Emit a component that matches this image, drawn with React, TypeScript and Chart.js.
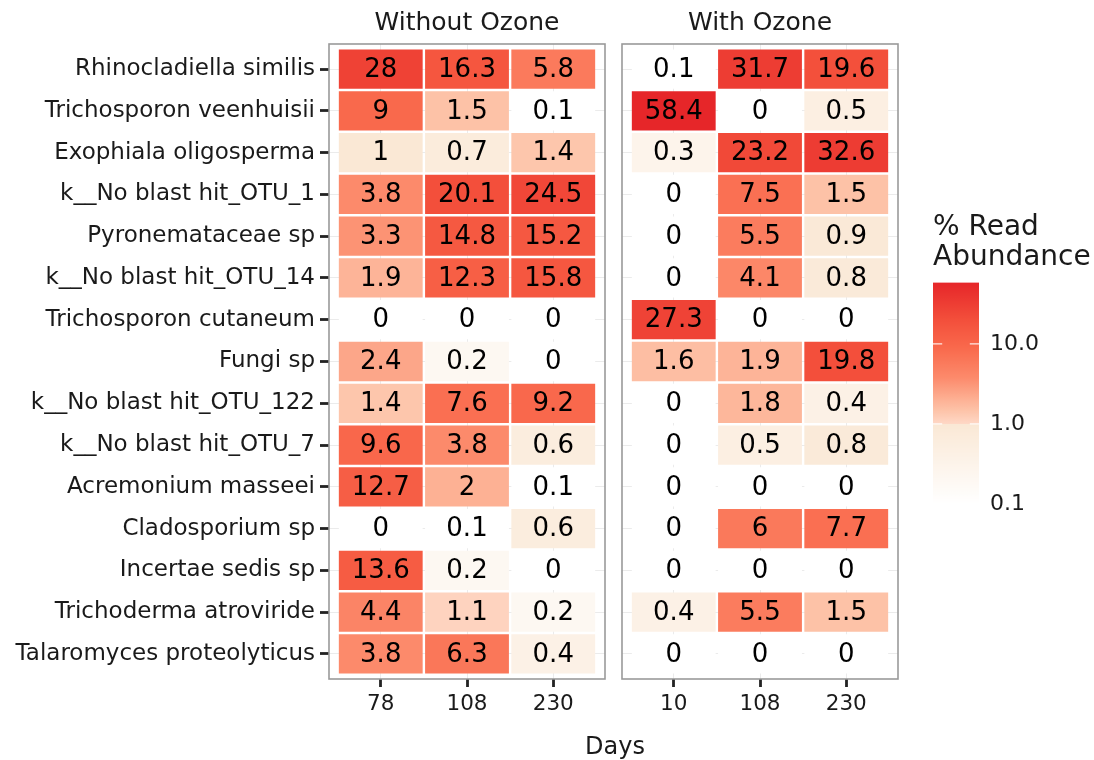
import React, { useEffect, useRef } from 'react';
import { Chart, registerables } from 'chart.js';

Chart.register(...registerables);

// ---------- data ----------
const taxa = [
  'Rhinocladiella similis',
  'Trichosporon veenhuisii',
  'Exophiala oligosperma',
  'k__No blast hit_OTU_1',
  'Pyronemataceae sp',
  'k__No blast hit_OTU_14',
  'Trichosporon cutaneum',
  'Fungi sp',
  'k__No blast hit_OTU_122',
  'k__No blast hit_OTU_7',
  'Acremonium masseei',
  'Cladosporium sp',
  'Incertae sedis sp',
  'Trichoderma atroviride',
  'Talaromyces proteolyticus',
];

const panelWithout = 'Without Ozone';
const panelWith = 'With Ozone';
const daysWithout = ['78', '108', '230'];
const daysWith = ['10', '108', '230'];

const without78 = [28, 9, 1, 3.8, 3.3, 1.9, 0, 2.4, 1.4, 9.6, 12.7, 0, 13.6, 4.4, 3.8];
const without108 = [16.3, 1.5, 0.7, 20.1, 14.8, 12.3, 0, 0.2, 7.6, 3.8, 2, 0.1, 0.2, 1.1, 6.3];
const without230 = [5.8, 0.1, 1.4, 24.5, 15.2, 15.8, 0, 0, 9.2, 0.6, 0.1, 0.6, 0, 0.2, 0.4];

const with10 = [0.1, 58.4, 0.3, 0, 0, 0, 27.3, 1.6, 0, 0, 0, 0, 0, 0.4, 0];
const with108 = [31.7, 0, 23.2, 7.5, 5.5, 4.1, 0, 1.9, 1.8, 0.5, 0, 6, 0, 5.5, 0];
const with230 = [19.6, 0.5, 32.6, 1.5, 0.9, 0.8, 0, 19.8, 0.4, 0.8, 0, 7.7, 0, 1.5, 0];

const legendTitle = ['% Read', 'Abundance'];
const legendTicks = [0.1, 1, 10];
const axisTitle = 'Days';

// ---------- style ----------
const FONT = "'DejaVu Sans', sans-serif";
const TEXT = '#1a1a1a';

// colour ramp in log10 space (style table)
const colorStops: Array<[number, [number, number, number]]> = [
  [-1, [255, 255, 255]],
  [0, [250, 232, 213]],
  [0.0001, [254, 216, 198]],
  [0.176, [253, 194, 167]],
  [0.58, [252, 138, 107]],
  [0.954, [249, 105, 76]],
  [1.3, [243, 79, 59]],
  [1.766, [230, 38, 41]],
];

function rgb(c: number[]) {
  return `rgb(${Math.round(c[0])},${Math.round(c[1])},${Math.round(c[2])})`;
}

function colorFor(v: number): string {
  if (!(v > 0)) return '#ffffff';
  const t = Math.log10(v);
  if (t <= colorStops[0][0]) return rgb(colorStops[0][1]);
  for (let i = 1; i < colorStops.length; i++) {
    if (t <= colorStops[i][0]) {
      const [t0, c0] = colorStops[i - 1];
      const [t1, c1] = colorStops[i];
      const f = (t - t0) / (t1 - t0);
      return rgb([0, 1, 2].map((k) => c0[k] + (c1[k] - c0[k]) * f));
    }
  }
  return rgb(colorStops[colorStops.length - 1][1]);
}

const allValues = [...without78, ...without108, ...without230, ...with10, ...with108, ...with230];
const legendMin = Math.min(...allValues.filter((v) => v > 0));
const legendMax = Math.max(...allValues);

const HALF_W = 0.486;

const panelPlugin = {
  id: 'panelDecor',
  afterDatasetsDraw(chart: any) {
    const { ctx, chartArea } = chart;
    ctx.save();
    ctx.fillStyle = '#000';
    ctx.font = `26px ${FONT}`;
    ctx.textAlign = 'center';
    ctx.textBaseline = 'middle';
    chart.data.datasets.forEach((ds: any, i: number) => {
      const meta = chart.getDatasetMeta(i);
      meta.data.forEach((el: any, j: number) => {
        const p = el.getCenterPoint();
        ctx.fillText(String(ds.data[j].v), p.x, p.y + 1);
      });
    });
    ctx.strokeStyle = '#9a9a9a';
    ctx.lineWidth = 1.6;
    ctx.strokeRect(chartArea.left, chartArea.top, chartArea.right - chartArea.left, chartArea.bottom - chartArea.top);
    ctx.restore();
  },
};

function panelConfig(title: string, days: string[], cols: number[][], showLabels: boolean): any {
  return {
    type: 'bar',
    data: {
      datasets: cols.map((vals, c) => ({
        data: vals.map((v, r) => ({ y: r, x: [c - HALF_W, c + HALF_W], v })),
        backgroundColor: vals.map(colorFor),
        borderWidth: 0,
        grouped: false,
        barPercentage: 0.94,
        categoryPercentage: 1,
      })),
    },
    options: {
      animation: false,
      responsive: false,
      maintainAspectRatio: false,
      indexAxis: 'y',
      layout: { padding: { left: 0, right: showLabels ? 7 : 14, top: 0, bottom: 0 } },
      plugins: {
        legend: { display: false },
        tooltip: { enabled: false },
        title: {
          display: true,
          text: title,
          fullSize: false,
          color: TEXT,
          font: { family: FONT, size: 25, weight: 'normal', lineHeight: 1.2 },
          padding: { top: 8, bottom: 6 },
        },
      },
      scales: {
        x: {
          type: 'linear',
          position: 'bottom',
          bounds: 'data',
          offset: false,
          min: -0.6,
          max: days.length - 0.4,
          afterBuildTicks: (s: any) => {
            s.ticks = days.map((_, i) => ({ value: i }));
          },
          afterFit: (s: any) => {
            s.height = 81;
          },
          ticks: {
            callback: (v: any) => days[v],
            color: TEXT,
            font: { family: FONT, size: 21.5 },
            padding: 5,
            maxRotation: 0,
            autoSkip: false,
          },
          grid: { offset: false, color: '#ebebeb', lineWidth: 1, tickColor: '#222', tickLength: 8, tickWidth: 2.8 },
          border: { display: false },
        },
        y: {
          type: 'linear',
          position: 'left',
          reverse: true,
          bounds: 'data',
          offset: false,
          min: -0.6,
          max: taxa.length - 0.4,
          afterBuildTicks: (s: any) => {
            s.ticks = taxa.map((_, i) => ({ value: i }));
          },
          afterFit: (s: any) => {
            s.width = showLabels ? 329 : 10;
          },
          ticks: {
            display: showLabels,
            callback: (v: any) => taxa[v],
            color: TEXT,
            font: { family: FONT, size: 23 },
            padding: 5,
            autoSkip: false,
          },
          grid: { offset: false, color: '#ebebeb', lineWidth: 1, drawTicks: showLabels, tickColor: '#222', tickLength: 9, tickWidth: 2.8 },
          border: { display: false },
        },
      },
    },
    plugins: [panelPlugin],
  };
}

const colorbarPlugin = {
  id: 'colorbarTicks',
  afterDatasetsDraw(chart: any) {
    const { ctx, chartArea, scales } = chart;
    ctx.save();
    ctx.strokeStyle = 'rgba(255,255,255,0.85)';
    ctx.lineWidth = 1.3;
    legendTicks.forEach((v) => {
      const y = scales.y.getPixelForValue(v);
      const len = (chartArea.right - chartArea.left) / 5;
      ctx.beginPath();
      ctx.moveTo(chartArea.left, y);
      ctx.lineTo(chartArea.left + len, y);
      ctx.moveTo(chartArea.right - len, y);
      ctx.lineTo(chartArea.right, y);
      ctx.stroke();
    });
    ctx.restore();
  },
};

function legendConfig(): any {
  return {
    type: 'bar',
    data: {
      labels: [''],
      datasets: [
        {
          data: [[legendMin, legendMax]],
          backgroundColor: (c: any) => {
            const chart = c.chart;
            const area = chart.chartArea;
            if (!area) return colorFor(legendMax);
            const ys = chart.scales.y;
            const y0 = ys.getPixelForValue(legendMin);
            const y1 = ys.getPixelForValue(legendMax);
            const g = chart.ctx.createLinearGradient(0, y0, 0, y1);
            const l0 = Math.log10(legendMin);
            const l1 = Math.log10(legendMax);
            const N = 400;
            for (let k = 0; k <= N; k++) {
              const t = k / N;
              g.addColorStop(t, colorFor(Math.pow(10, l0 + (l1 - l0) * t)));
            }
            return g;
          },
          borderWidth: 0,
          barPercentage: 1,
          categoryPercentage: 1,
        },
      ],
    },
    options: {
      animation: false,
      responsive: false,
      maintainAspectRatio: false,
      layout: { padding: { left: 13, right: 0, top: 0, bottom: 26 } },
      plugins: {
        legend: { display: false },
        tooltip: { enabled: false },
        title: {
          display: true,
          text: legendTitle,
          align: 'start',
          fullSize: true,
          color: TEXT,
          font: { family: FONT, size: 28, weight: 'normal', lineHeight: 1.1 },
          padding: { top: 12, bottom: 9 },
        },
      },
      scales: {
        x: { type: 'category', display: false },
        y: {
          type: 'logarithmic',
          position: 'right',
          min: legendMin,
          max: legendMax,
          afterBuildTicks: (s: any) => {
            s.ticks = legendTicks.map((v) => ({ value: v }));
          },
          afterFit: (s: any) => {
            s.width = 141;
          },
          ticks: {
            callback: (v: any) => Number(v).toFixed(1),
            color: TEXT,
            font: { family: FONT, size: 22 },
            padding: 11,
            autoSkip: false,
          },
          grid: { display: false, drawTicks: false },
          border: { display: false },
        },
      },
    },
    plugins: [colorbarPlugin],
  };
}

export default function App() {
  const leftRef = useRef<HTMLCanvasElement>(null);
  const rightRef = useRef<HTMLCanvasElement>(null);
  const legendRef = useRef<HTMLCanvasElement>(null);

  useEffect(() => {
    Chart.defaults.font.family = FONT;
    const charts: Chart[] = [];
    if (leftRef.current)
      charts.push(new Chart(leftRef.current, panelConfig(panelWithout, daysWithout, [without78, without108, without230], true)));
    if (rightRef.current)
      charts.push(new Chart(rightRef.current, panelConfig(panelWith, daysWith, [with10, with108, with230], false)));
    if (legendRef.current) charts.push(new Chart(legendRef.current, legendConfig()));
    return () => charts.forEach((c) => c.destroy());
  }, []);

  return (
    <div
      style={{
        position: 'fixed',
        left: 0,
        top: 0,
        width: 1094,
        height: 760,
        background: '#fff',
        overflow: 'hidden',
      }}
    >
      <canvas ref={leftRef} width={612} height={760} style={{ position: 'absolute', left: 0, top: 0 }} />
      <canvas ref={rightRef} width={300} height={760} style={{ position: 'absolute', left: 612, top: 0 }} />
      <canvas ref={legendRef} width={200} height={330} style={{ position: 'absolute', left: 920, top: 200 }} />
      <div
        style={{
          position: 'absolute',
          left: 515,
          top: 734,
          width: 200,
          textAlign: 'center',
          fontFamily: FONT,
          fontSize: 24,
          lineHeight: '24px',
          color: TEXT,
        }}
      >
        {axisTitle}
      </div>
    </div>
  );
}
